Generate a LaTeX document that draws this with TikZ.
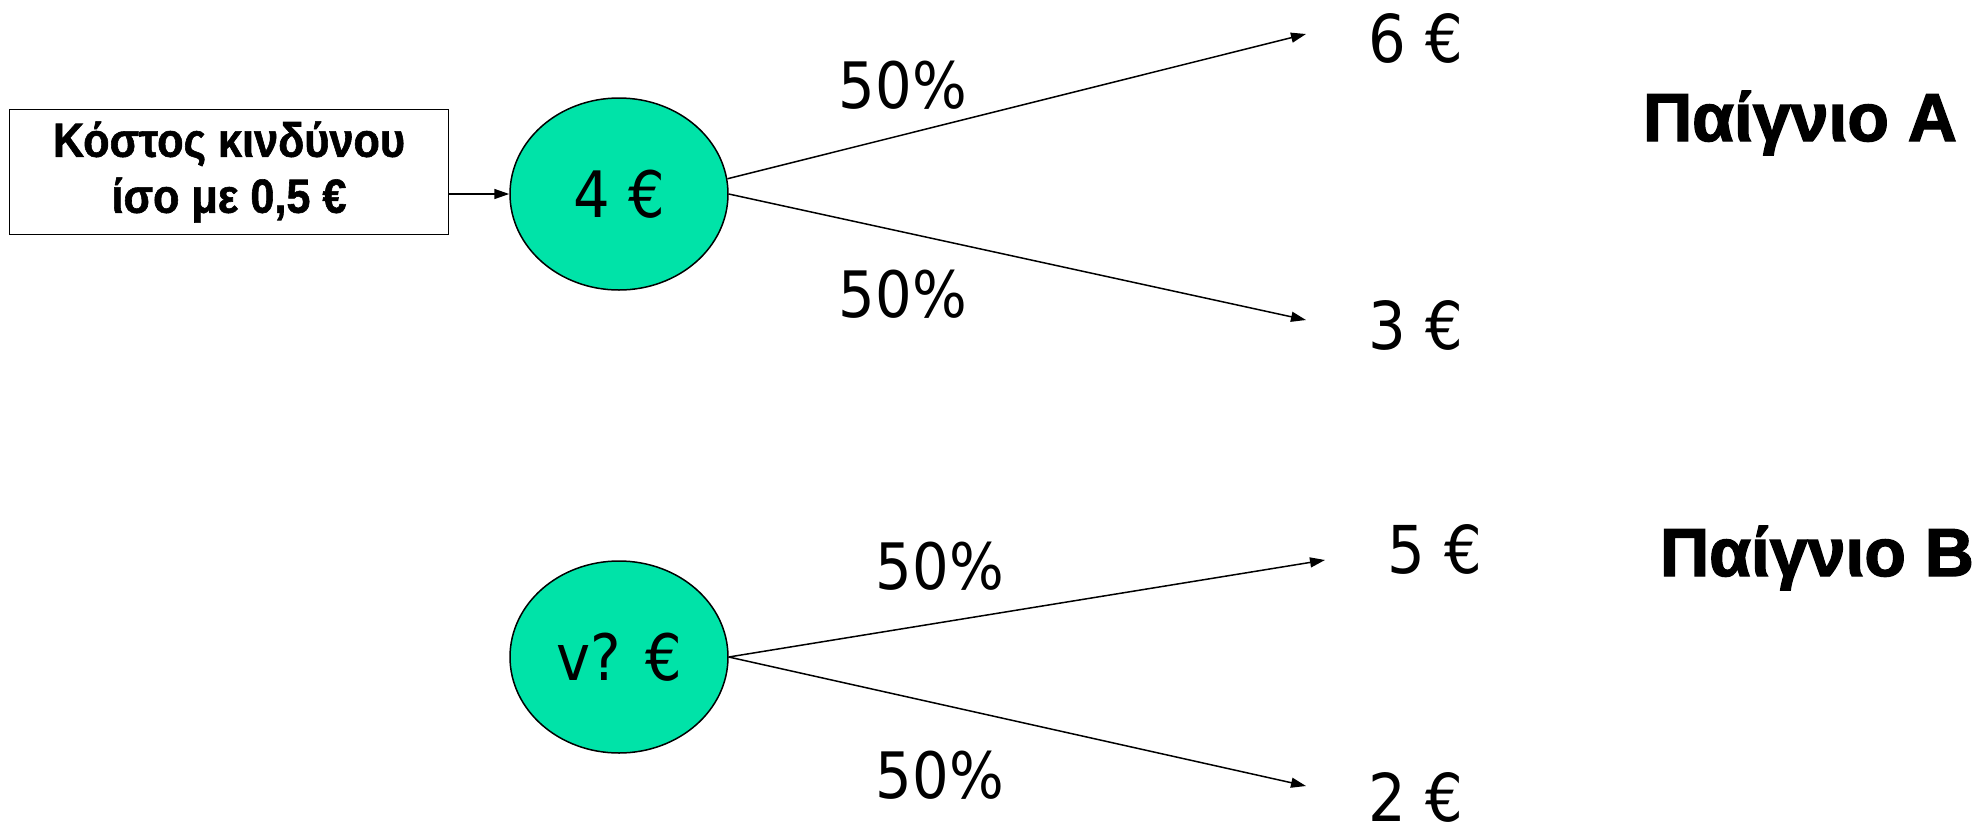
\documentclass[tikz,border=0pt]{standalone}
\usepackage{fontspec}
\usepackage{tikz}
\usetikzlibrary{shapes.geometric, arrows.meta}
\newfontfamily\numfont{DejaVu Sans}[FakeStretch=0.9]
\newfontfamily\greekfont{Liberation Sans}[FakeStretch=0.9, BoldFeatures={FakeBold=1.2}]
\newfontfamily\heavyfont{Liberation Sans}[BoldFeatures={FakeBold=2}]
\definecolor{mint}{RGB}{0,227,168}

\tikzset{
    chance/.style={ellipse, draw, line width=0.75pt, fill=mint,
        minimum width=109pt, minimum height=96pt,
        font=\numfont\fontsize{32}{38}\selectfont},
    payoff/.style={font=\numfont\fontsize{33}{38}\selectfont},
    prob/.style={font=\numfont\fontsize{32}{38}\selectfont},
    game/.style={font=\heavyfont\bfseries\fontsize{34}{40}\selectfont},
    costbox/.style={draw, line width=0.75pt, align=center,
        minimum width=219.5pt, minimum height=62.5pt,
        font=\greekfont\bfseries\fontsize{24}{28}\selectfont},
    branch/.style={-{Triangle[length=7.5pt,width=5pt]}, line width=0.75pt}
}

\begin{document}
\begin{tikzpicture}[x=0.5pt, y=-0.5pt]
    \useasboundingbox (0,0) rectangle (1988,831);

    \node[costbox] (cost) at (229,172) {Κόστος κινδύνου\\ίσο με 0,5 €};
    \node[chance]  (A)    at (619,194) {4 €};
    \node[chance]  (B)    at (619,657) {v? €};

    \node[payoff] (A6) at (1416,38)  {6 €};
    \node[payoff] (A3) at (1416,325) {3 €};
    \node[payoff] (B5) at (1435,549) {5 €};
    \node[payoff, inner sep=1pt] (B2) at (1416,797) {2 €};

    \node[prob] (pAup)   at (903,85)  {50\%};
    \node[prob] (pAdown) at (903,294) {50\%};
    \node[prob] (pBup)   at (940,566) {50\%};
    \node[prob] (pBdown) at (940,775) {50\%};

    \node[game] (gameA) at (1800,123) {Παίγνιο A};
    \node[game] (gameB) at (1817,558) {Παίγνιο B};

    % arrow tips stop short of the payoffs
    \coordinate (A6end) at (1306,34);
    \coordinate (A3end) at (1306,320);
    \coordinate (B5end) at (1325,560);
    \coordinate (B2end) at (1306,786);

    \path
        (cost.east |- A.west)
            edge [branch] (A.west)
        (A.8)
            edge [branch] (A6end)
        (A.east)
            edge [branch] (A3end)
        (B.east)
            edge [branch] (B5end)
            edge [branch] (B2end)
        ;
\end{tikzpicture}
\end{document}
